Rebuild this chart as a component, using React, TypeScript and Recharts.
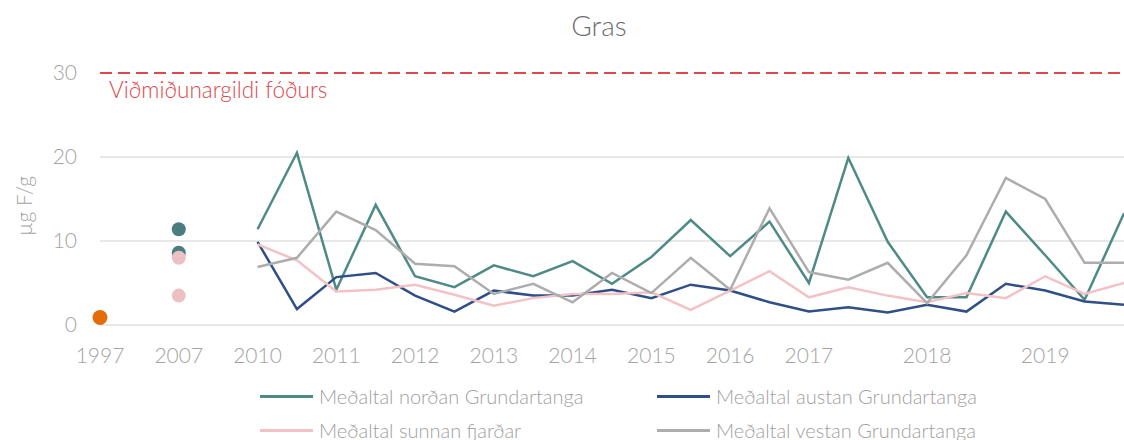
import React from "react";
import {
  LineChart,
  Line,
  XAxis,
  YAxis,
  CartesianGrid,
  ReferenceLine,
} from "recharts";

// x slots: two (or three) samplings per year, only some slots are labelled
const xLabels = [
  "1997", "", "2007", "", "2010", "", "2011", "", "2012", "", "2013", "",
  "2014", "", "2015", "", "2016", "", "2017", "", "", "2018", "", "", "2019", "", "",
];
const lineStart = xLabels.indexOf("2010");

const nordan = [11.4, 20.5, 4.2, 14.3, 5.8, 4.5, 7.1, 5.8, 7.6, 4.9, 8.1, 12.5, 8.2, 12.3, 5.0, 19.9, 9.9, 3.3, 3.3, 13.5, 8.3, 3.0, 13.3];
const austan = [9.9, 1.9, 5.7, 6.2, 3.5, 1.6, 4.1, 3.5, 3.5, 4.2, 3.2, 4.8, 4.1, 2.7, 1.6, 2.1, 1.5, 2.4, 1.6, 4.9, 4.1, 2.8, 2.4];
const sunnan = [9.6, 7.7, 4.0, 4.2, 4.8, 3.6, 2.3, 3.2, 3.7, 3.7, 3.9, 1.8, 4.1, 6.4, 3.3, 4.5, 3.5, 2.7, 3.8, 3.2, 5.8, 3.7, 5.0];
const vestan = [6.9, 8.0, 13.5, 11.3, 7.3, 7.0, 3.7, 4.9, 2.7, 6.2, 3.8, 8.0, 4.2, 13.9, 6.3, 5.4, 7.4, 2.6, 8.3, 17.5, 15.0, 7.4, 7.4];

// single measurements before the series start
const punktar1997 = [0.9];
const nordan2007 = [11.4, 8.6];
const sunnan2007 = [8.0, 3.5];

const yTicks = [0, 10, 20, 30];
const vidmidunargildi = 30;

const series = [
  { key: "nordan", name: "Meðaltal norðan Grundartanga", color: "#4F8B86", values: nordan },
  { key: "austan", name: "Meðaltal austan Grundartanga", color: "#2F4F86", values: austan },
  { key: "sunnan", name: "Meðaltal sunnan fjarðar", color: "#F2C2C6", values: sunnan },
  { key: "vestan", name: "Meðaltal vestan Grundartanga", color: "#ADADAD", values: vestan },
];

const dotSeries = [
  ...punktar1997.map((v, k) => ({ key: `p1997_${k}`, slot: xLabels.indexOf("1997"), value: v, color: "#E46C0A", r: 7.5 })),
  ...nordan2007.map((v, k) => ({ key: `n2007_${k}`, slot: xLabels.indexOf("2007"), value: v, color: "#4A7E7E", r: 7 })),
  ...sunnan2007.map((v, k) => ({ key: `s2007_${k}`, slot: xLabels.indexOf("2007"), value: v, color: "#EDC0C4", r: 7 })),
];

const data = xLabels.map((label, i) => {
  const row: Record<string, number | string | null> = { i, label };
  series.forEach((s) => {
    row[s.key] = s.values[i - lineStart] ?? null;
  });
  dotSeries.forEach((d) => {
    row[d.key] = d.slot === i ? d.value : null;
  });
  return row;
});

const tickIdx = xLabels.map((l, i) => (l ? i : -1)).filter((i) => i >= 0);

const FONT = "Lato, 'Open Sans', sans-serif";
const tickStyle = { fontSize: 21, fill: "#A3A3A3", fontFamily: FONT, fontWeight: 300 };

export default function App() {
  return (
    <div style={{ position: "absolute", left: 0, top: 0, width: 1124, height: 440, background: "#fff", fontFamily: FONT, fontWeight: 300 }}>
      <div style={{ position: "absolute", top: 8, left: 0, width: 1198, textAlign: "center", fontSize: 28, color: "#6E6E6E" }}>
        Gras
      </div>
      <LineChart width={1124} height={440} data={data} margin={{ top: 73, right: 0, bottom: 85, left: 0 }}>
        <CartesianGrid vertical={false} horizontalValues={[0, 10, 20]} stroke="#E8E8E8" strokeWidth={2} />
        <XAxis
          dataKey="i"
          type="number"
          domain={[0, xLabels.length - 1]}
          ticks={tickIdx}
          tickFormatter={(v: number) => xLabels[v]}
          interval={0}
          axisLine={false}
          tickLine={false}
          tickMargin={17}
          height={30}
          tick={tickStyle}
        />
        <YAxis
          domain={[0, 30]}
          ticks={yTicks}
          width={100}
          axisLine={false}
          tickLine={false}
          tickMargin={17}
          tick={tickStyle}
          label={{
            content: () => (
              <text
                x={23}
                y={206}
                transform="rotate(-90 23 206)"
                textAnchor="middle"
                dominantBaseline="central"
                fontSize={21}
                fill="#A3A3A3"
                fontFamily={FONT}
                fontWeight={300}
              >
                µg F/g
              </text>
            ),
          }}
        />
        <ReferenceLine
          y={vidmidunargildi}
          stroke="#E0474C"
          strokeWidth={2}
          strokeDasharray="12 6"
          label={{
            content: (p: any) => (
              <text x={p.viewBox.x + 9} y={p.viewBox.y + 25} fontSize={22.5} fill="#E0474C" fontFamily={FONT} fontWeight={300}>
                Viðmiðunargildi fóðurs
              </text>
            ),
          }}
        />
        {series.map((s) => (
          <Line
            key={s.key}
            dataKey={s.key}
            name={s.name}
            stroke={s.color}
            strokeWidth={2.5}
            dot={false}
            activeDot={false}
            isAnimationActive={false}
            type="linear"
          />
        ))}
        {dotSeries.map((d) => (
          <Line
            key={d.key}
            dataKey={d.key}
            stroke="none"
            dot={{ r: d.r, fill: d.color, stroke: "none", strokeWidth: 0 }}
            activeDot={false}
            isAnimationActive={false}
            legendType="none"
          />
        ))}
      </LineChart>
      {series.map((s, k) => {
        const col = k % 2;
        const row = Math.floor(k / 2);
        return (
          <div
            key={s.key}
            style={{
              position: "absolute",
              left: col === 0 ? 260 : 657,
              top: 396 + row * 34 - 12,
              height: 24,
              display: "flex",
              alignItems: "center",
              whiteSpace: "nowrap",
            }}
          >
            <div style={{ width: 53, height: 3, background: s.color, marginRight: 6 }} />
            <span style={{ fontSize: 20, color: "#A0A0A0" }}>{s.name}</span>
          </div>
        );
      })}
    </div>
  );
}
